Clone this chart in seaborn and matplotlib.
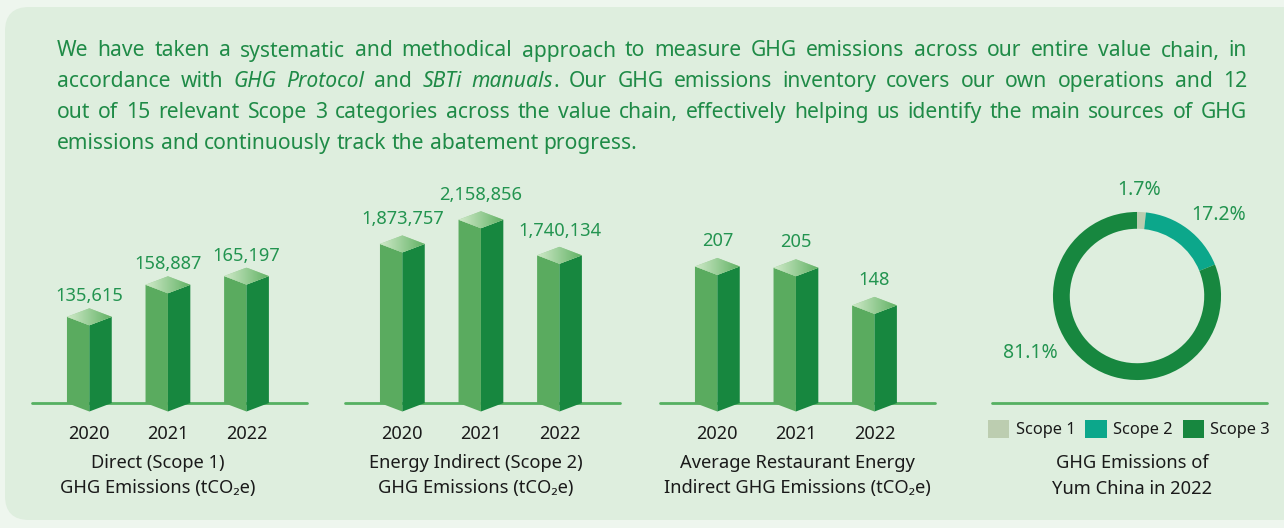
import numpy as np
import pandas as pd
import matplotlib
matplotlib.use("Agg")
import matplotlib.pyplot as plt
import seaborn as sns
from matplotlib.patches import Polygon, FancyBboxPatch, Patch
from matplotlib.lines import Line2D
from matplotlib.colors import LinearSegmentedColormap
from matplotlib.transforms import IdentityTransform

# ---- data ----
years = ["2020", "2021", "2022"]
scope1_values = [135615, 158887, 165197]
scope2_values = [1873757, 2158856, 1740134]
restaurant_values = [207, 205, 148]
bar_titles = [
    "Direct (Scope 1)\nGHG Emissions (tCO\u2082e)",
    "Energy Indirect (Scope 2)\nGHG Emissions (tCO\u2082e)",
    "Average Restaurant Energy\nIndirect GHG Emissions (tCO\u2082e)",
]
share_labels = ["Scope 1", "Scope 2", "Scope 3"]
share_values = [1.7, 17.2, 81.1]
donut_title = "GHG Emissions of\nYum China in 2022"
paragraph = [
    "We have taken a systematic and methodical approach to measure GHG emissions across our entire value chain, in",
    "accordance with *GHG* *Protocol* and *SBTi* *manuals*. Our GHG emissions inventory covers our own operations and 12",
    "out of 15 relevant Scope 3 categories across the value chain, effectively helping us identify the main sources of GHG",
    "emissions and continuously track the abatement progress.",
]

# ---- style ----
W, H = 1284, 528
GREEN_TEXT = "#1f8b47"
FRONT = "#5aab5f"
SIDE = "#17873f"
LINE = "#55b061"
DARK = "#1a1a1a"
donut_colors = ["#bccdb0", "#0ca78b", "#17873f"]
top_cmap = LinearSegmentedColormap.from_list("top", ["#cfe9c8", "#62b265"])

sns.set_theme(style="white")
plt.rcParams["font.family"] = ["Noto Sans", "DejaVu Sans"]

fig = plt.figure(figsize=(W / 100, H / 100), dpi=100, facecolor="#eef6ee")
fig.patches.append(FancyBboxPatch((5, H - 520), 1300, 513,
                                  boxstyle="round,pad=0,rounding_size=24",
                                  transform=IdentityTransform(),
                                  facecolor="#deeede", edgecolor="none", zorder=-10))


def px_axes(left, top, width, height):
    ax = fig.add_axes([left / W, 1 - (top + height) / H, width / W, height / H])
    ax.set_facecolor("none")
    return ax


# ---- paragraph, justified ----
renderer = fig.canvas.get_renderer()
PARA_SIZE = 15.2


def text_width(s, style="normal", size=PARA_SIZE):
    t = fig.text(0, 0, s, fontsize=size, style=style)
    w = t.get_window_extent(renderer).width
    t.remove()
    return w


def draw_line(line, y, x0=57, x1=1247, justify=True, size=PARA_SIZE):
    words = []
    for word in line.split():
        pieces = []
        if word.startswith("*"):
            end = word.index("*", 1)
            pieces.append((word[1:end], "italic"))
            if word[end + 1:]:
                pieces.append((word[end + 1:], "normal"))
        else:
            pieces.append((word, "normal"))
        words.append(pieces)
    widths = [sum(text_width(s, st, size) for s, st in p) for p in words]
    if justify:
        gap = (x1 - x0 - sum(widths)) / (len(words) - 1)
    else:
        gap = text_width("x x", size=size) - text_width("xx", size=size)
    x = x0
    for pieces, w in zip(words, widths):
        xx = x
        for s, st in pieces:
            fig.text(xx / W, 1 - y / H, s, fontsize=size, style=st,
                     color=GREEN_TEXT, va="center", ha="left")
            xx += text_width(s, st, size)
        x += w + gap


for i, line in enumerate(paragraph):
    draw_line(line, 51 + i * 30.7, justify=i < len(paragraph) - 1)


# ---- 3D-looking bars ----
def draw_bars(left, values, ylim, label_gap, title, title_x):
    ax = px_axes(left, 180, 275, 223)
    df = pd.DataFrame({"year": years, "value": values})
    sns.barplot(data=df, x="year", y="value", ax=ax, width=0.57, color=FRONT)
    d = 8.5 * (ylim[1] - ylim[0]) / 223
    base = ylim[0]
    for p, v in zip(list(ax.patches), values):
        x0, w, top = p.get_x(), p.get_width() / 2, p.get_height()
        p.set_visible(False)
        ax.add_patch(Polygon([(x0, top), (x0 + w, top - d), (x0 + w, base - d), (x0, base)],
                             closed=True, facecolor=FRONT, edgecolor="none", clip_on=False, zorder=2))
        ax.add_patch(Polygon([(x0 + w, top - d), (x0 + 2 * w, top), (x0 + 2 * w, base), (x0 + w, base - d)],
                             closed=True, facecolor=SIDE, edgecolor="none", clip_on=False, zorder=2))
        top_poly = Polygon([(x0, top), (x0 + w, top + d), (x0 + 2 * w, top), (x0 + w, top - d)],
                           closed=True, facecolor="#9ccf98", edgecolor="none", zorder=2)
        ax.add_patch(top_poly)
        im = ax.imshow(np.linspace(0, 1, 64).reshape(1, -1), cmap=top_cmap, aspect="auto",
                       extent=(x0, x0 + 2 * w, top - d, top + d), zorder=3)
        im.set_clip_path(top_poly)
        ax.annotate(f"{v:,}", (x0 + w, top + d), xytext=(0, label_gap * 0.72),
                    textcoords="offset points", ha="center", va="baseline",
                    fontsize=13.2, color="#239450")
    ax.axhline(base, color=LINE, lw=2, clip_on=False, zorder=1)
    ax.set_xlim(-0.73, 2.77)
    ax.set_ylim(*ylim)
    for s in ax.spines.values():
        s.set_visible(False)
    ax.set_yticks([])
    ax.set_xlabel("")
    ax.set_ylabel("")
    ax.tick_params(axis="x", length=0, pad=16, labelsize=13, labelcolor=DARK)
    fig.text(title_x / W, 1 - 476 / H, title, ha="center", va="center",
             fontsize=13.2, color=DARK, linespacing=1.5)


draw_bars(32, scope1_values, (73000, 235000), 7, bar_titles[0], 158)
draw_bars(345, scope2_values, (0, 2627000), 11, bar_titles[1], 476)
draw_bars(660, restaurant_values, (0, 338), 12, bar_titles[2], 797)

# ---- donut ----
dax = px_axes(1137 - 100, 296 - 100, 200, 200)
wedges, _ = dax.pie(share_values, colors=donut_colors, startangle=90, counterclock=False,
                    radius=1, wedgeprops=dict(width=0.2, edgecolor="none"))
dax.set_xlim(-1.19, 1.19)
dax.set_ylim(-1.19, 1.19)
for txt, (ang, r) in zip([f"{v}%" for v in share_values], [(89, 1.26), (45, 1.37), (208, 1.44)]):
    a = np.deg2rad(ang)
    dax.text(r * np.cos(a), r * np.sin(a), txt, ha="center", va="center",
             fontsize=14, color="#239450", clip_on=False)

fig.add_artist(Line2D([992 / W, 1267 / W], [1 - 403 / H] * 2, color=LINE, lw=2))
handles = [Patch(facecolor=c, edgecolor="none") for c in donut_colors]
fig.legend(handles, share_labels, loc="center", bbox_to_anchor=(1129 / W, 1 - 429 / H),
           ncol=3, frameon=False, fontsize=11.8, handlelength=1.3, handleheight=1.3,
           handletextpad=0.4, columnspacing=0.6, labelcolor=DARK)
fig.text(1132 / W, 1 - 476 / H, donut_title, ha="center", va="center",
         fontsize=13.2, color=DARK, linespacing=1.5)

fig.savefig("out.png", dpi=100, facecolor=fig.get_facecolor())
